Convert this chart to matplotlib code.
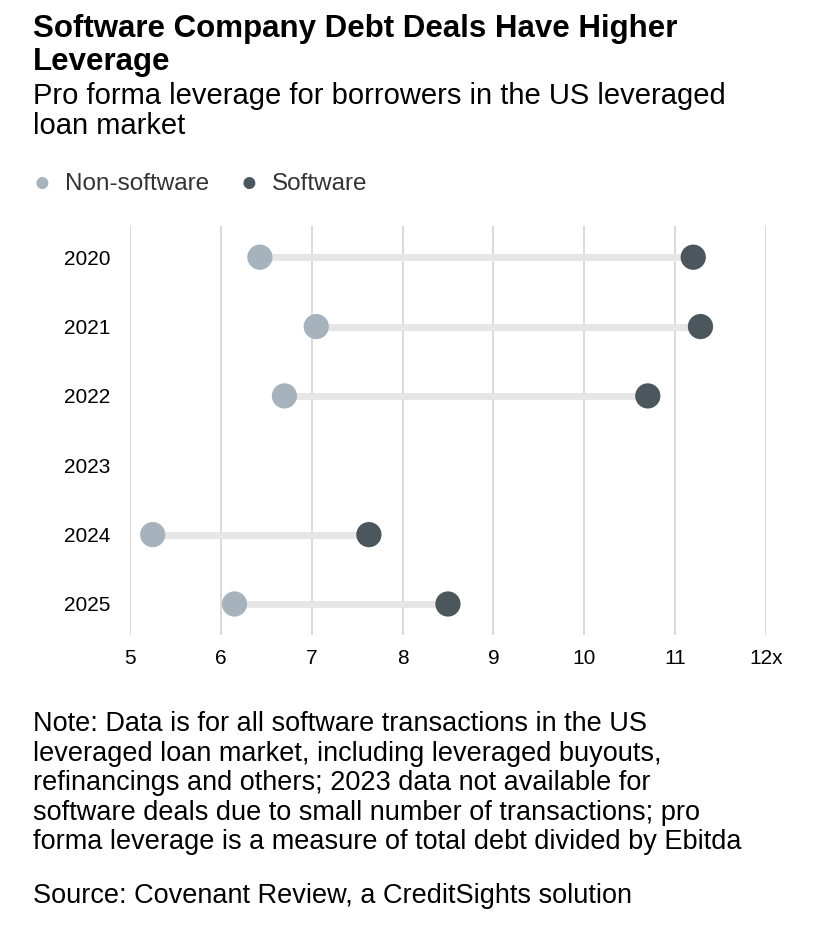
import matplotlib.pyplot as plt
import numpy as np

plt.rcParams['font.family'] = ['Liberation Sans', 'DejaVu Sans']

years = ['2020', '2021', '2022', '2023', '2024', '2025']
non_software = [6.43, 7.05, 6.70, None, 5.25, 6.15]
software = [11.20, 11.28, 10.70, None, 7.63, 8.50]

c_non = '#a6b3bc'
c_soft = '#4c565d'

fig = plt.figure(figsize=(8.28, 9.3), dpi=100)
ax = fig.add_axes([0.157, 0.317, 0.768, 0.44])

ypos = np.arange(len(years))
for y, a, b in zip(ypos, non_software, software):
    if a is None:
        continue
    ax.plot([a, b], [y, y], color='#e6e6e6', lw=5, zorder=2, solid_capstyle='butt')
    ax.scatter([a], [y], s=330, color=c_non, zorder=3, edgecolors='none')
    ax.scatter([b], [y], s=330, color=c_soft, zorder=3, edgecolors='none')

ax.set_xlim(5, 12)
ax.set_ylim(5.45, -0.45)
ax.set_xticks(range(5, 13))
ax.set_xticklabels([str(v) for v in range(5, 12)] + ['12x'], fontsize=15)
ax.set_yticks(ypos)
ax.set_yticklabels(years, fontsize=15)
ax.tick_params(length=0, pad=10)
ax.tick_params(axis='y', pad=14)
ax.grid(axis='x', color='#d4d4d4', lw=1.2, zorder=0)
for s in ax.spines.values():
    s.set_visible(False)

fig.text(0.04, 0.985, 'Software Company Debt Deals Have Higher\nLeverage', fontsize=22.5,
         fontweight='bold', va='top', linespacing=1.12)
fig.text(0.04, 0.912, 'Pro forma leverage for borrowers in the US leveraged\nloan market',
         fontsize=21, va='top', linespacing=1.1)

fig.text(0.04, 0.802, '●', color=c_non, fontsize=20, va='center')
fig.text(0.078, 0.802, 'Non-software', fontsize=17.5, va='center', color='#333333')
fig.text(0.29, 0.802, '●', color=c_soft, fontsize=20, va='center')
fig.text(0.328, 0.802, 'Software', fontsize=17.5, va='center', color='#333333')

fig.text(0.04, 0.235, 'Note: Data is for all software transactions in the US\n'
         'leveraged loan market, including leveraged buyouts,\n'
         'refinancings and others; 2023 data not available for\n'
         'software deals due to small number of transactions; pro\n'
         'forma leverage is a measure of total debt divided by Ebitda',
         fontsize=19.5, va='top', linespacing=1.17)
fig.text(0.04, 0.023, 'Source: Covenant Review, a CreditSights solution', fontsize=19.5, va='bottom')

fig.savefig('out.png', dpi=100, facecolor='white')
